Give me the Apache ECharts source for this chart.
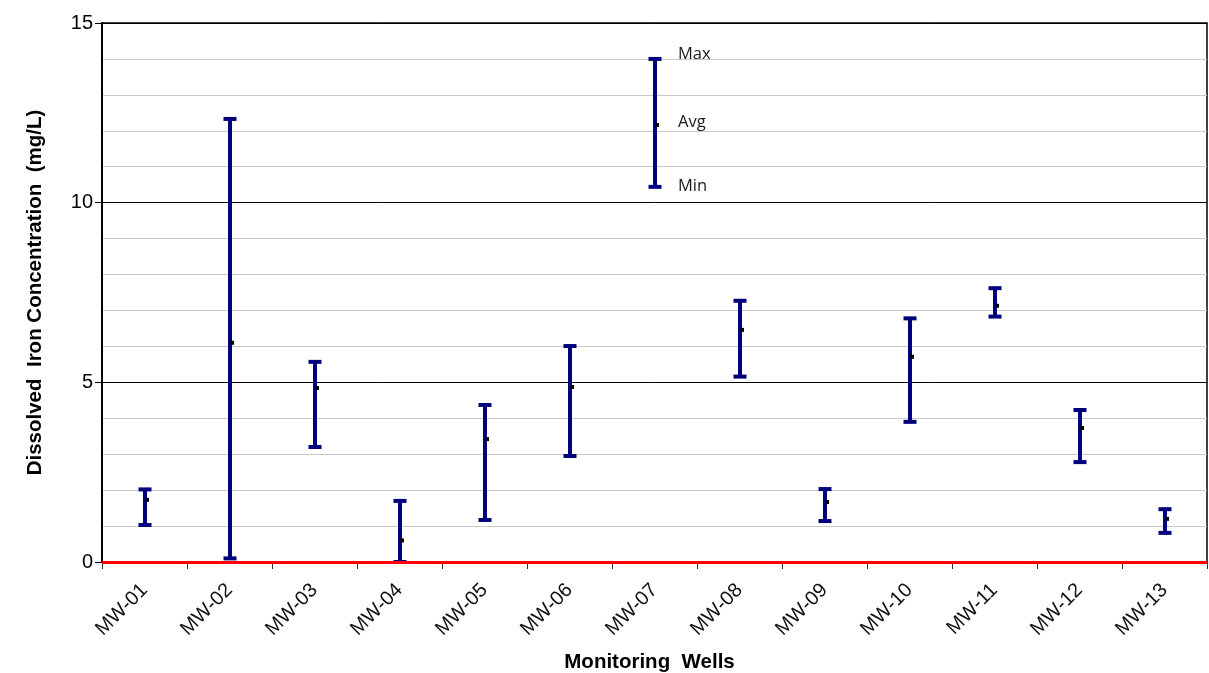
<!DOCTYPE html>
<html>
<head>
<meta charset="utf-8">
<script src="https://cdn.jsdelivr.net/npm/echarts@6/dist/echarts.min.js"></script>
<style>
html,body{margin:0;padding:0;background:#fff;}
#chart{width:1209px;height:673px;}
</style>
</head>
<body>
<div id="chart"></div>
<script>
// ---- data ----
var categories = ['MW-01','MW-02','MW-03','MW-04','MW-05','MW-06','MW-07','MW-08','MW-09','MW-10','MW-11','MW-12','MW-13'];
var minValues = [1.03, 0.10, 3.20, 0.00, 1.17, 2.95, null, 5.16, 1.14, 3.90, 6.83, 2.78, 0.81];
var avgValues = [1.73, 6.10, 4.84, 0.60, 3.42, 4.87, null, 6.46, 1.67, 5.71, 7.13, 3.73, 1.20];
var maxValues = [2.02, 12.33, 5.57, 1.70, 4.37, 6.01, null, 7.27, 2.03, 6.78, 7.62, 4.23, 1.47];
// key (legend) sample drawn at MW-07
var keyCategory = 'MW-07';
var keyMin = 10.44, keyAvg = 12.16, keyMax = 14.0;
var keyLabels = ['Min', 'Avg', 'Max'];
var yTicks = [0, 5, 10, 15];
var detectionLine = 0;

var barData = [];
for (var i = 0; i < categories.length; i++) {
  if (minValues[i] != null) barData.push([i, minValues[i], avgValues[i], maxValues[i]]);
}
var keyData = [[categories.indexOf(keyCategory), keyMin, keyAvg, keyMax]];

var NAVY = '#00007f';
function makeBar(api, withText) {
  var cx = api.value(0);
  var pMin = api.coord([cx, api.value(1)]);
  var pAvg = api.coord([cx, api.value(2)]);
  var pMax = api.coord([cx, api.value(3)]);
  var x = Math.round(pMin[0]);
  var half = 6.5;
  var st = {stroke: NAVY, lineWidth: 4};
  var ch = [
    {type: 'line', shape: {x1: x, y1: pMin[1], x2: x, y2: pMax[1]}, style: st},
    {type: 'line', shape: {x1: x - half, y1: pMin[1], x2: x + half, y2: pMin[1]}, style: st},
    {type: 'line', shape: {x1: x - half, y1: pMax[1], x2: x + half, y2: pMax[1]}, style: st},
    {type: 'rect', shape: {x: x, y: pAvg[1] - 2, width: 4, height: 4}, style: {fill: '#000'}, z2: 10}
  ];
  if (withText) {
    var ys = [pMin[1] - 1, pAvg[1] - 3, pMax[1] - 5];
    for (var k = 0; k < 3; k++) {
      ch.push({type: 'text', x: x + 23, y: ys[k], style: {text: keyLabels[k], fill: '#1a1a1a', font: '16.5px "Open Sans", sans-serif', verticalAlign: 'middle', align: 'left'}});
    }
  }
  return {type: 'group', children: ch};
}

var chart = echarts.init(document.getElementById('chart'), null, {renderer: 'canvas'});
chart.setOption({
  animation: false,
  backgroundColor: '#fff',
  grid: {left: 102, right: 2, top: 23, bottom: 111, containLabel: false, outerBoundsMode: 'none',
    show: true, borderColor: '#000', borderWidth: 1.5, backgroundColor: 'transparent'},
  xAxis: {
    type: 'category',
    data: categories,
    boundaryGap: true,
    name: 'Monitoring  Wells',
    nameLocation: 'middle',
    nameGap: 90,
    nameTextStyle: {fontFamily: 'Liberation Sans', fontWeight: 'bold', fontSize: 20.5, color: '#000', padding: [0, 10, 0, 0]},
    axisLine: {show: true, lineStyle: {color: '#000', width: 1}},
    axisTick: {show: true, alignWithLabel: false, length: 7, lineStyle: {color: '#333'}},
    axisLabel: {rotate: 45, margin: 25, fontFamily: 'Liberation Sans', fontSize: 20, color: '#111', interval: 0},
    splitLine: {show: false}
  },
  yAxis: {
    type: 'value',
    min: 0, max: 15, interval: 5,
    name: 'Dissolved  Iron Concentration  (mg/L)',
    nameLocation: 'middle',
    nameGap: 56,
    nameTextStyle: {fontFamily: 'Liberation Sans', fontWeight: 'bold', fontSize: 20.5, color: '#000'},
    axisLine: {show: true, lineStyle: {color: '#000', width: 2}},
    axisTick: {show: true, length: 7, lineStyle: {color: '#000'}},
    axisLabel: {fontFamily: 'Liberation Sans', fontSize: 20, color: '#000', margin: 9,
      formatter: function (v) { return yTicks.indexOf(v) >= 0 ? String(v) : ''; }},
    splitLine: {show: true, lineStyle: {color: '#000', width: 1}},
    minorTick: {show: false, splitNumber: 5},
    minorSplitLine: {show: true, lineStyle: {color: '#c8c8c8', width: 1}}
  },
  series: [
    {
      type: 'custom',
      name: 'Range',
      data: barData,
      encode: {x: 0, y: [1, 2, 3]},
      renderItem: function (params, api) { return makeBar(api, false); },
      z: 5,
      markLine: {
        silent: true,
        symbol: 'none',
        label: {show: false},
        lineStyle: {color: '#ff0000', width: 3, type: 'solid'},
        data: [{yAxis: detectionLine}],
        z: 10
      }
    },
    {
      type: 'custom',
      name: 'Key',
      data: keyData,
      encode: {x: 0, y: [1, 2, 3]},
      renderItem: function (params, api) { return makeBar(api, true); },
      z: 5
    }
  ]
});
</script>
</body>
</html>
